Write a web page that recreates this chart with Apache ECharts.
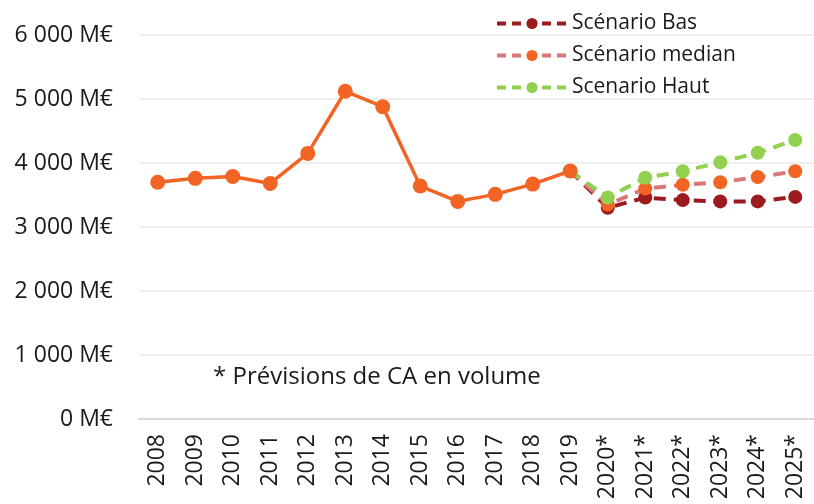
<!DOCTYPE html>
<html>
<head>
<meta charset="utf-8">
<script src="https://cdn.jsdelivr.net/npm/echarts@6/dist/echarts.min.js"></script>
<style>
  html, body { margin: 0; padding: 0; background: #fff; }
  #chart { width: 814px; height: 504px; }
</style>
</head>
<body>
<div id="chart"></div>
<script>
// Chiffre d'affaires annuel (M€) et scénarios de prévision
const years = ['2008', '2009', '2010', '2011', '2012', '2013', '2014', '2015', '2016', '2017', '2018', '2019',
               '2020*', '2021*', '2022*', '2023*', '2024*', '2025*'];
const historique = [3700, 3760, 3790, 3680, 4150, 5120, 4880, 3640, 3400, 3510, 3670, 3875];
const scenarioBas = [3875, 3300, 3460, 3420, 3400, 3400, 3470];
const scenarioMedian = [3875, 3350, 3600, 3660, 3700, 3780, 3870];
const scenarioHaut = [3875, 3460, 3770, 3870, 4010, 4160, 4360];
const yTicks = [0, 1000, 2000, 3000, 4000, 5000, 6000];
const note = '* Prévisions de CA en volume';

const FONT = 'Open Sans';
const histStart = 0;
const forecastStart = years.indexOf('2019');

function padSeries(values, start) {
  const out = years.map(() => null);
  values.forEach((v, i) => { out[start + i] = v; });
  return out;
}

function formatMEUR(v) {
  return String(v).replace(/\B(?=(\d{3})+(?!\d))/g, ' ') + ' M€';
}

const dash = [12, 8];

const chart = echarts.init(document.getElementById('chart'));
chart.setOption({
  animation: false,
  textStyle: { fontFamily: FONT },
  grid: { left: 139, top: 35, width: 682, height: 384, containLabel: false },
  legend: {
    orient: 'vertical',
    left: 490,
    top: 8,
    itemWidth: 70,
    itemHeight: 14,
    itemGap: 11,
    lineStyle: { type: [9, 6], width: 4 },
    textStyle: { fontFamily: FONT, fontSize: 21, color: '#1a1a1a' },
    data: ['Scénario Bas', 'Scénario median', 'Scenario Haut']
  },
  xAxis: {
    type: 'category',
    data: years,
    boundaryGap: true,
    axisLine: { lineStyle: { color: '#d9d9d9', width: 2 } },
    axisTick: { show: false },
    axisLabel: { rotate: 90, margin: 15, fontSize: 23, color: '#1a1a1a', fontFamily: FONT, interval: 0 }
  },
  yAxis: {
    type: 'value',
    min: yTicks[0],
    max: yTicks[yTicks.length - 1],
    interval: 1000,
    axisLine: { show: false },
    axisTick: { show: false },
    splitLine: { lineStyle: { color: '#efefef', width: 2 } },
    axisLabel: { formatter: formatMEUR, margin: 26, fontSize: 23, color: '#1a1a1a', fontFamily: FONT }
  },
  series: [
    {
      name: 'Scénario Bas',
      type: 'line',
      data: padSeries(scenarioBas, forecastStart),
      symbol: 'circle',
      symbolSize: 14,
      itemStyle: { color: '#9b1b1f' },
      lineStyle: { color: '#9b1b1f', width: 4, type: dash },
      z: 2
    },
    {
      name: 'Scénario median',
      type: 'line',
      data: padSeries(scenarioMedian, forecastStart),
      symbol: 'circle',
      symbolSize: 14,
      itemStyle: { color: '#f26424' },
      lineStyle: { color: '#d9777a', width: 4, type: dash },
      z: 3
    },
    {
      name: 'Scenario Haut',
      type: 'line',
      data: padSeries(scenarioHaut, forecastStart),
      symbol: 'circle',
      symbolSize: 14,
      itemStyle: { color: '#92d050' },
      lineStyle: { color: '#92d050', width: 4, type: dash },
      z: 4
    },
    {
      name: 'Historique',
      type: 'line',
      data: padSeries(historique, histStart),
      symbol: 'circle',
      symbolSize: 15,
      itemStyle: { color: '#f26424' },
      lineStyle: { color: '#f26424', width: 3.5 },
      z: 5
    }
  ],
  graphic: [
    {
      type: 'text',
      left: 213,
      top: 365,
      style: { text: note, fontFamily: FONT, fontSize: 24, fill: '#1a1a1a' }
    }
  ]
});
</script>
</body>
</html>
